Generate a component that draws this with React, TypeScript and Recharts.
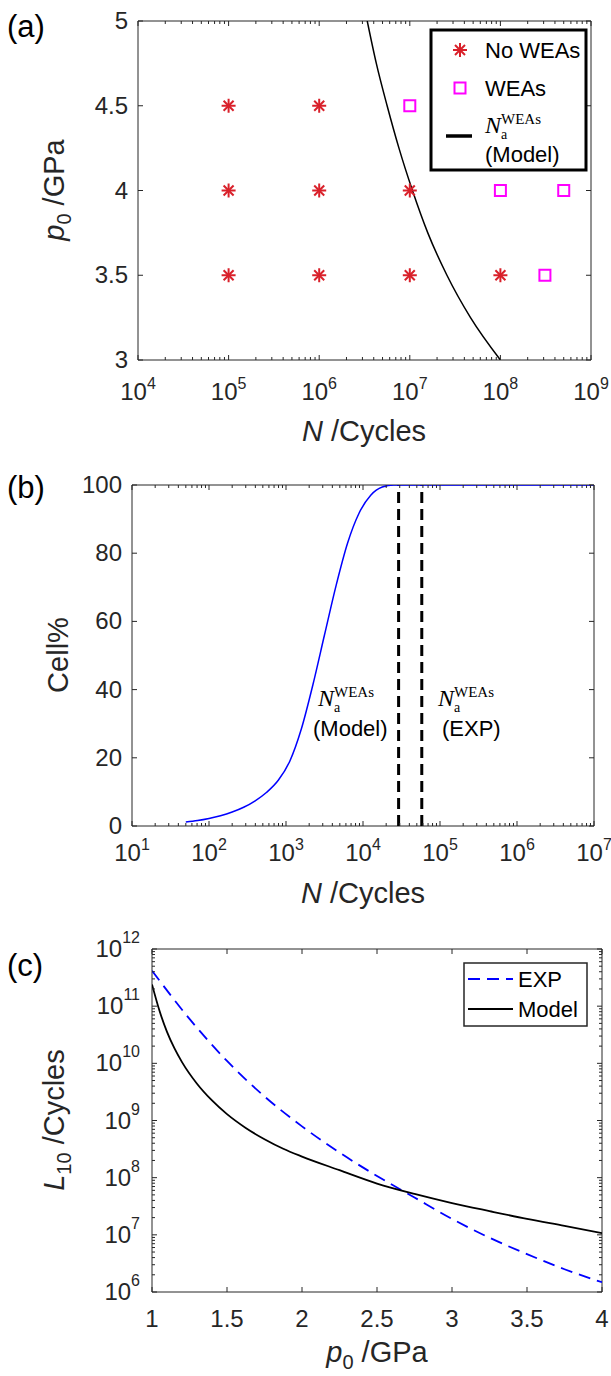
import React from 'react';
import { ComposedChart, Line, Scatter, XAxis, YAxis, ReferenceLine, ReferenceArea } from 'recharts';

const AX = '#262626';
const RED = '#d9202a';
const MAG = '#ff00ff';
const BLUE = '#0000ff';
const SANS = '"Liberation Sans", Arial, Helvetica, sans-serif';
const SERIF = '"Liberation Serif", "DejaVu Serif", serif';

// (a) test grid and model boundary
const aNoWeasN = [1e5, 1e6, 1e5, 1e6, 1e7, 1e5, 1e6, 1e7, 1e8];
const aNoWeasP = [4.5, 4.5, 4, 4, 4, 3.5, 3.5, 3.5, 3.5];
const aWeasN = [1e7, 1e8, 5e8, 3.1e8];
const aWeasP = [4.5, 4, 4, 3.5];
const aModelN = [3.39e6, 4.27e6, 5.62e6, 7.59e6, 1.07e7, 1.58e7, 2.57e7, 4.68e7, 1.0e8];
const aModelP = [5, 4.75, 4.5, 4.25, 4, 3.75, 3.5, 3.25, 3];
const aPTicks = [3, 3.5, 4, 4.5, 5];
const aDecades = [4, 5, 6, 7, 8, 9];

// (b) cell percentage vs cycles
const bN = [50, 71, 100, 141, 200, 282, 398, 562, 794, 1120, 1585, 2240, 3160, 4470, 6310, 8910, 12600, 17800, 25100, 1e7];
const bCell = [1.2, 1.6, 2.2, 3.0, 4.1, 5.5, 7.4, 9.9, 13.4, 19, 28.5, 41.5, 56, 70.5, 83, 91.8, 97, 99.4, 100, 100];
const bModelN = 2.9e4;
const bExpN = 5.8e4;
const bCellTicks = [0, 20, 40, 60, 80, 100];
const bDecades = [1, 2, 3, 4, 5, 6, 7];

// (c) L10 life vs contact pressure
const cExpP = [1, 1.25, 1.5, 1.75, 2, 2.25, 2.5, 2.75, 3, 3.25, 3.5, 3.75, 4];
const cExpL = [4.17e11, 6.0e10, 1.1e10, 2.63e9, 7.9e8, 2.75e8, 1.07e8, 4.5e7, 1.9e7, 8.9e6, 4.6e6, 2.5e6, 1.48e6];
const cModelP = [1, 1.05, 1.1, 1.15, 1.2, 1.3, 1.4, 1.5, 1.625, 1.75, 1.875, 2, 2.25, 2.5, 2.75, 3, 3.25, 3.5, 3.75, 4];
const cModelL = [2.4e11, 8.3e10, 3.55e10, 1.82e10, 1.05e10, 4.4e9, 2.24e9, 1.29e9, 7.4e8, 4.7e8, 3.2e8, 2.34e8, 1.35e8, 7.9e7, 5.2e7, 3.6e7, 2.6e7, 1.9e7, 1.43e7, 1.07e7];
const cPTicks = [1, 1.5, 2, 2.5, 3, 3.5, 4];
const cDecades = [6, 7, 8, 9, 10, 11, 12];

const zip = (xs: number[], ys: number[], kx: string, ky: string) =>
  xs.map((v, i) => ({ [kx]: v, [ky]: ys[i] }));

const logTicks = (decades: number[]) => {
  const out: number[] = [];
  decades.forEach((d, i) => {
    const base = Math.pow(10, d);
    if (i === decades.length - 1) out.push(base);
    else for (let m = 1; m <= 9; m++) out.push(m * base);
  });
  return out;
};

const isMajor = (v: number) => {
  const e = Math.round(Math.log10(v));
  return { major: Math.abs(v / Math.pow(10, e) - 1) < 1e-9, e };
};

const makeXLogTick = (plotH: number, dy: number) => (props: any) => {
  const { x, y, payload } = props;
  const { major, e } = isMajor(payload.value);
  const len = major ? 5 : 3;
  return (
    <g>
      <line x1={x} x2={x} y1={y} y2={y - len} stroke={AX} />
      <line x1={x} x2={x} y1={y - plotH} y2={y - plotH + len} stroke={AX} />
      {major && (
        <text x={x} y={y + dy} textAnchor="middle" fill={AX} fontFamily={SANS} fontSize={24}>
          10<tspan dy={-11} fontSize={16}>{e}</tspan>
        </text>
      )}
    </g>
  );
};

const makeYLogTick = (plotW: number) => (props: any) => {
  const { x, y, payload } = props;
  const { major, e } = isMajor(payload.value);
  const len = major ? 5 : 3;
  return (
    <g>
      <line x1={x} x2={x + len} y1={y} y2={y} stroke={AX} />
      <line x1={x + plotW} x2={x + plotW - len} y1={y} y2={y} stroke={AX} />
      {major && (
        <text x={x - 12} y={y + 8} textAnchor="end" fill={AX} fontFamily={SANS} fontSize={24}>
          10<tspan dy={-14} fontSize={16}>{e}</tspan>
        </text>
      )}
    </g>
  );
};

const makeXLinTick = (plotH: number, dy: number) => (props: any) => {
  const { x, y, payload } = props;
  return (
    <g>
      <line x1={x} x2={x} y1={y} y2={y - 5} stroke={AX} />
      <line x1={x} x2={x} y1={y - plotH} y2={y - plotH + 5} stroke={AX} />
      <text x={x} y={y + dy} textAnchor="middle" fill={AX} fontFamily={SANS} fontSize={24}>
        {payload.value}
      </text>
    </g>
  );
};

const makeYLinTick = (plotW: number) => (props: any) => {
  const { x, y, payload } = props;
  return (
    <g>
      <line x1={x} x2={x + 5} y1={y} y2={y} stroke={AX} />
      <line x1={x + plotW} x2={x + plotW - 5} y1={y} y2={y} stroke={AX} />
      <text x={x - 10} y={y + 8} textAnchor="end" fill={AX} fontFamily={SANS} fontSize={24}>
        {payload.value}
      </text>
    </g>
  );
};

const Asterisk = (props: any) => {
  const { cx, cy } = props;
  const r = 7;
  const d = 5;
  return (
    <g stroke={RED} strokeWidth={2}>
      <line x1={cx - r} x2={cx + r} y1={cy} y2={cy} />
      <line x1={cx} x2={cx} y1={cy - r} y2={cy + r} />
      <line x1={cx - d} x2={cx + d} y1={cy - d} y2={cy + d} />
      <line x1={cx - d} x2={cx + d} y1={cy + d} y2={cy - d} />
    </g>
  );
};

const Square = (props: any) => {
  const { cx, cy } = props;
  return <rect x={cx - 5.5} y={cy - 5.5} width={11} height={11} fill="none" stroke={MAG} strokeWidth={2} />;
};

const NaWeas = ({ x, y }: { x: number; y: number }) => (
  <g fill="#000">
    <text x={x} y={y} fontFamily={SERIF} fontStyle="italic" fontSize={24}>N</text>
    <text x={x + 16} y={y - 9} fontFamily={SERIF} fontSize={15}>WEAs</text>
    <text x={x + 16} y={y + 6} fontFamily={SERIF} fontSize={14}>a</text>
  </g>
);

// axes draw only through the custom ticks; height/width 1 keeps them rendered
const common = { tickSize: 0, tickMargin: 0, axisLine: false, tickLine: false, interval: 0 as const };

export default function App() {
  const noWeas = zip(aNoWeasN, aNoWeasP, 'N', 'p');
  const weas = zip(aWeasN, aWeasP, 'N', 'p');
  const aModel = zip(aModelN, aModelP, 'N', 'p');
  const cell = zip(bN, bCell, 'N', 'cell');
  const cExp = zip(cExpP, cExpL, 'p', 'L');
  const cModel = zip(cModelP, cModelL, 'p', 'L');

  return (
    <div style={{ position: 'absolute', left: 0, top: 0, width: 611, height: 1376, background: '#fff' }}>
      <div style={{ position: 'absolute', left: 0, top: 0 }}>
        <ComposedChart width={611} height={460} margin={{ top: 21, right: 20, bottom: 99, left: 137 }}>
          <XAxis dataKey="N" type="number" scale="log" domain={[1e4, 1e9]} allowDataOverflow
            ticks={logTicks(aDecades)} tick={makeXLogTick(339, 40)} height={1} {...common} />
          <YAxis dataKey="p" type="number" domain={[3, 5]} allowDataOverflow
            ticks={aPTicks} tick={makeYLinTick(453)} width={1} {...common} />
          <ReferenceArea x1={1e4} x2={1e9} y1={3} y2={5} fill="none" stroke={AX} ifOverflow="visible" />
          <Line data={aModel} dataKey="p" type="monotone" stroke="#000" strokeWidth={1.5} dot={false} isAnimationActive={false} />
          <Scatter data={noWeas} shape={Asterisk} isAnimationActive={false} />
          <Scatter data={weas} shape={Square} isAnimationActive={false} />
        </ComposedChart>
      </div>
      <div style={{ position: 'absolute', left: 0, top: 460 }}>
        <ComposedChart width={611} height={460} margin={{ top: 25, right: 17, bottom: 93, left: 131 }}>
          <XAxis dataKey="N" type="number" scale="log" domain={[10, 1e7]} allowDataOverflow
            ticks={logTicks(bDecades)} tick={makeXLogTick(341, 35)} height={1} {...common} />
          <YAxis type="number" domain={[0, 100]} allowDataOverflow
            ticks={bCellTicks} tick={makeYLinTick(462)} width={1} {...common} />
          <ReferenceArea x1={10} x2={1e7} y1={0} y2={100} fill="none" stroke={AX} ifOverflow="visible" />
          <ReferenceLine x={bModelN} stroke="#000" strokeWidth={3} strokeDasharray="11 6" />
          <ReferenceLine x={bExpN} stroke="#000" strokeWidth={3} strokeDasharray="11 6" />
          <Line data={cell} dataKey="cell" type="monotone" stroke={BLUE} strokeWidth={1.5} dot={false} isAnimationActive={false} />
        </ComposedChart>
      </div>
      <div style={{ position: 'absolute', left: 0, top: 920 }}>
        <ComposedChart width={611} height={456} margin={{ top: 29, right: 9, bottom: 83, left: 151 }}>
          <XAxis dataKey="p" type="number" domain={[1, 4]} allowDataOverflow
            ticks={cPTicks} tick={makeXLinTick(343, 35)} height={1} {...common} />
          <YAxis type="number" scale="log" domain={[1e6, 1e12]} allowDataOverflow
            ticks={logTicks(cDecades)} tick={makeYLogTick(450)} width={1} {...common} />
          <ReferenceArea x1={1} x2={4} y1={1e6} y2={1e12} fill="none" stroke={AX} ifOverflow="visible" />
          <Line data={cExp} dataKey="L" type="monotone" stroke={BLUE} strokeWidth={1.8} strokeDasharray="12 7" dot={false} isAnimationActive={false} />
          <Line data={cModel} dataKey="L" type="monotone" stroke="#000" strokeWidth={1.8} dot={false} isAnimationActive={false} />
        </ComposedChart>
      </div>

      <svg width={611} height={1376} style={{ position: 'absolute', left: 0, top: 0, pointerEvents: 'none' }}>
        <g fontFamily={SANS} fill="#000">
          {/* panel tags */}
          <text x={7} y={37} fontSize={31}>(a)</text>
          <text x={7} y={498} fontSize={31}>(b)</text>
          <text x={7} y={976} fontSize={31}>(c)</text>

          {/* (a) titles */}
          <text x={364} y={441} textAnchor="middle" fontSize={29} fill={AX}>
            <tspan fontStyle="italic">N</tspan> /Cycles
          </text>
          <text transform="translate(64,190) rotate(-90)" textAnchor="middle" fontSize={29} fill={AX}>
            <tspan fontStyle="italic">p</tspan><tspan dy={7} fontSize={20}>0</tspan><tspan dy={-7}> /GPa</tspan>
          </text>

          {/* (a) legend */}
          <rect x={431} y={30} width={155} height={140} fill="#fff" stroke="#000" strokeWidth={3} />
          <Asterisk cx={460} cy={50} />
          <text x={485} y={58} fontSize={22}>No WEAs</text>
          <Square cx={460} cy={88} />
          <text x={485} y={96} fontSize={22}>WEAs</text>
          <line x1={446} x2={472} y1={136} y2={136} stroke="#000" strokeWidth={3.5} />
          <NaWeas x={485} y={133} />
          <text x={485} y={162} fontSize={22}>(Model)</text>

          {/* (b) titles and notes */}
          <text x={363} y={903} textAnchor="middle" fontSize={29} fill={AX}>
            <tspan fontStyle="italic">N</tspan> /Cycles
          </text>
          <text transform="translate(68,655) rotate(-90)" textAnchor="middle" fontSize={29} fill={AX}>Cell%</text>
          <NaWeas x={318} y={706} />
          <text x={313} y={736} fontSize={22}>(Model)</text>
          <NaWeas x={438} y={706} />
          <text x={442} y={736} fontSize={22}>(EXP)</text>

          {/* (c) titles */}
          <text x={377} y={1362} textAnchor="middle" fontSize={29} fill={AX}>
            <tspan fontStyle="italic">p</tspan><tspan dy={7} fontSize={20}>0</tspan><tspan dy={-7}> /GPa</tspan>
          </text>
          <text transform="translate(64,1120) rotate(-90)" textAnchor="middle" fontSize={29} fill={AX}>
            <tspan fontStyle="italic">L</tspan><tspan dy={7} fontSize={20}>10</tspan><tspan dy={-7}> /Cycles</tspan>
          </text>

          {/* (c) legend */}
          <rect x={464} y={963} width={123} height={63} fill="#fff" stroke={AX} strokeWidth={1.5} />
          <line x1={468} x2={513} y1={979} y2={979} stroke={BLUE} strokeWidth={2} strokeDasharray="12 7" />
          <text x={518} y={987} fontSize={22}>EXP</text>
          <line x1={468} x2={513} y1={1009} y2={1009} stroke="#000" strokeWidth={2} />
          <text x={518} y={1017} fontSize={22}>Model</text>
        </g>
      </svg>
    </div>
  );
}
